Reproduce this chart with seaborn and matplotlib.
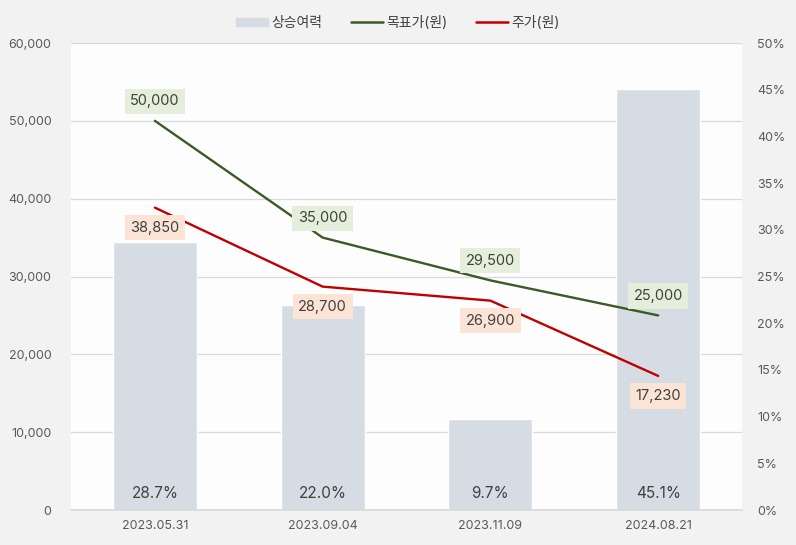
import matplotlib
matplotlib.use("Agg")
import matplotlib.pyplot as plt
import seaborn as sns
import pandas as pd
from matplotlib.patches import Patch
from matplotlib.lines import Line2D

dates = ["2023.05.31", "2023.09.04", "2023.11.09", "2024.08.21"]
upside = [28.7, 22.0, 9.7, 45.1]
target_price = [50000, 35000, 29500, 25000]
stock_price = [38850, 28700, 26900, 17230]
left_ticks = [0, 10000, 20000, 30000, 40000, 50000, 60000]
right_ticks = [0, 5, 10, 15, 20, 25, 30, 35, 40, 45, 50]

sns.set_theme(style="white")
plt.rcParams["font.family"] = ["Inter", "Noto Sans CJK KR", "DejaVu Sans"]

BAR = "#d6dce4"
GREEN = "#3b5a26"
RED = "#c00000"
TXT = "#404040"
TICK = "#595959"

df = pd.DataFrame({"date": dates, "upside": upside,
                   "target": target_price, "price": stock_price})

fig = plt.figure(figsize=(7.96, 5.45), dpi=100)
fig.patch.set_facecolor("#f2f2f2")
ax = fig.add_axes([0.0892, 0.0642, 0.8430, 0.8569])
ax.set_facecolor("#fdfdfd")

# bars (right axis scale) on primary axes
sns.barplot(data=df, x="date", y="upside", color=BAR, width=0.5,
            saturation=1, ax=ax, zorder=2)
ax.set_ylim(0, 50)
ax.set_xlim(-0.5, 3.5)
for v in left_ticks[1:]:
    ax.axhline(v / 60000 * 50, color="#d9d9d9", lw=0.9, zorder=1)
ax.set_xlabel("")
ax.set_ylabel("")
for i, v in enumerate(upside):
    ax.text(i, 1.8, f"{v:.1f}%", ha="center", va="center", fontsize=11, color=TXT, zorder=5)

# lines on twin axes (left scale)
ax2 = ax.twinx()
sns.lineplot(x=list(range(4)), y=target_price, color=GREEN, lw=1.7, ax=ax2)
sns.lineplot(x=list(range(4)), y=stock_price, color=RED, lw=1.7, ax=ax2)
ax2.set_ylim(0, 60000)
ax2.set_xlim(-0.5, 3.5)
ax2.set_ylabel("")

ax.yaxis.tick_right()
ax.set_yticks(right_ticks)
ax.set_yticklabels([f"{t}%" for t in right_ticks], fontsize=9, color=TICK)
ax.tick_params(axis="y", length=0, pad=11)
ax.tick_params(axis="x", length=0, pad=7, labelsize=9, labelcolor=TICK)

ax2.yaxis.tick_left()
ax2.set_yticks(left_ticks)
ax2.set_yticklabels([f"{t:,}" for t in left_ticks], fontsize=9, color=TICK)
ax2.tick_params(axis="y", length=0, pad=14)

for i, v in enumerate(target_price):
    ax2.annotate(f"{v:,}", (i, v), xytext=(0, 14), textcoords="offset points",
                 ha="center", va="center", fontsize=10.5, color=TXT,
                 bbox=dict(boxstyle="square,pad=0.38", fc="#e4eedb", ec="none"))
for i, v in enumerate(stock_price):
    ax2.annotate(f"{v:,}", (i, v), xytext=(0, -14.5), textcoords="offset points",
                 ha="center", va="center", fontsize=10.5, color=TXT,
                 bbox=dict(boxstyle="square,pad=0.38", fc="#fbe3d5", ec="none"))

for a in (ax, ax2):
    for s in a.spines.values():
        s.set_visible(False)
ax.spines["bottom"].set_visible(True)
ax.spines["bottom"].set_color("#d9d9d9")

handles = [Patch(color=BAR, label="상승여력"),
           Line2D([], [], color=GREEN, lw=1.8, label="목표가(원)"),
           Line2D([], [], color=RED, lw=1.8, label="주가(원)")]
leg = fig.legend(handles=handles, loc="center", bbox_to_anchor=(0.5, 0.958), ncol=3,
                 frameon=False, fontsize=10, handlelength=2.3, handleheight=0.5,
                 columnspacing=2.0, handletextpad=0.3)
for t in leg.get_texts():
    t.set_color(TXT)

fig.savefig("out.png", dpi=100, facecolor=fig.get_facecolor())
